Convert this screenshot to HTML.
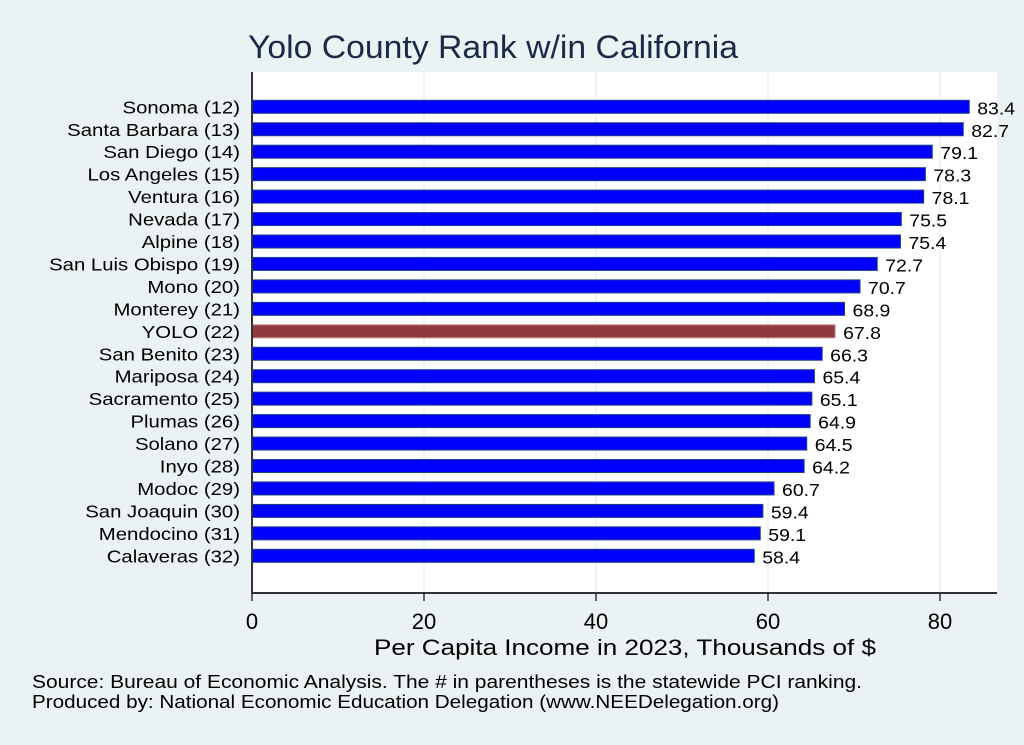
<!DOCTYPE html>
<html><head><meta charset="utf-8"><style>
html,body{margin:0;padding:0;background:#eaf2f3;}
svg{display:block;font-family:"Liberation Sans",Arial,sans-serif;}
</style></head><body>
<svg width="1024" height="745" viewBox="0 0 1024 745" xmlns="http://www.w3.org/2000/svg">
<rect x="0" y="0" width="1024" height="745" fill="#eaf2f3"/>
<rect x="252" y="72" width="745" height="521" fill="#ffffff"/>
<g stroke="#eaf2f3" stroke-width="1.5">
<line x1="424" y1="72" x2="424" y2="593"/>
<line x1="596" y1="72" x2="596" y2="593"/>
<line x1="768" y1="72" x2="768" y2="593"/>
<line x1="940" y1="72" x2="940" y2="593"/>
</g>
<text x="248" y="58" font-size="32" fill="#1c2a4a" textLength="490" lengthAdjust="spacingAndGlyphs">Yolo County Rank w/in California</text>
<g id="bars" font-size="18" fill="#000"></g>
<line x1="252" y1="72" x2="252" y2="594" stroke="#333" stroke-width="2"/>
<line x1="251" y1="593" x2="997" y2="593" stroke="#333" stroke-width="2"/>
<g stroke="#333" stroke-width="1.5">
<line x1="252" y1="593" x2="252" y2="601"/>
<line x1="424" y1="593" x2="424" y2="601"/>
<line x1="596" y1="593" x2="596" y2="601"/>
<line x1="768" y1="593" x2="768" y2="601"/>
<line x1="940" y1="593" x2="940" y2="601"/>
</g>
<g font-size="22" text-anchor="middle" fill="#000">
<text x="252" y="629">0</text>
<text x="424" y="629">20</text>
<text x="596" y="629">40</text>
<text x="768" y="629">60</text>
<text x="940" y="629">80</text>
</g>
<text x="374" y="655" font-size="22" fill="#000" textLength="502" lengthAdjust="spacingAndGlyphs">Per Capita Income in 2023, Thousands of $</text>
<text x="32" y="688" font-size="18" fill="#000" textLength="830" lengthAdjust="spacingAndGlyphs">Source: Bureau of Economic Analysis. The # in parentheses is the statewide PCI ranking.</text>
<text x="32" y="708" font-size="18" fill="#000" textLength="747" lengthAdjust="spacingAndGlyphs">Produced by: National Economic Education Delegation (www.NEEDelegation.org)</text>
</svg>
<script>
var d=[["Sonoma (12)",83.4],["Santa Barbara (13)",82.7],["San Diego (14)",79.1],["Los Angeles (15)",78.3],["Ventura (16)",78.1],["Nevada (17)",75.5],["Alpine (18)",75.4],["San Luis Obispo (19)",72.7],["Mono (20)",70.7],["Monterey (21)",68.9],["YOLO (22)",67.8],["San Benito (23)",66.3],["Mariposa (24)",65.4],["Sacramento (25)",65.1],["Plumas (26)",64.9],["Solano (27)",64.5],["Inyo (28)",64.2],["Modoc (29)",60.7],["San Joaquin (30)",59.4],["Mendocino (31)",59.1],["Calaveras (32)",58.4]];
var g=document.getElementById("bars"),s="";
d.forEach(function(r,i){var c=106.8+i*22.45,w=r[1]*8.6;var y=r[0]=="YOLO (22)";
s+='<rect x="252" y="'+(c-6.5)+'" width="'+w+'" height="13" fill="'+(y?"#903a3e":"#0000ff")+'" stroke="'+(y?"#c08a8c":"#1a3f8a")+'" stroke-width="1"/>';
s+='<text transform="translate(240,'+(c+6.5)+') scale(1.13,1)" text-anchor="end">'+r[0]+'</text>';
s+='<text transform="translate('+(252+w+8)+','+(c+7.5)+') scale(1.08,1)">'+r[1].toFixed(1)+'</text>';});
g.innerHTML=s;
</script>
</body></html>
